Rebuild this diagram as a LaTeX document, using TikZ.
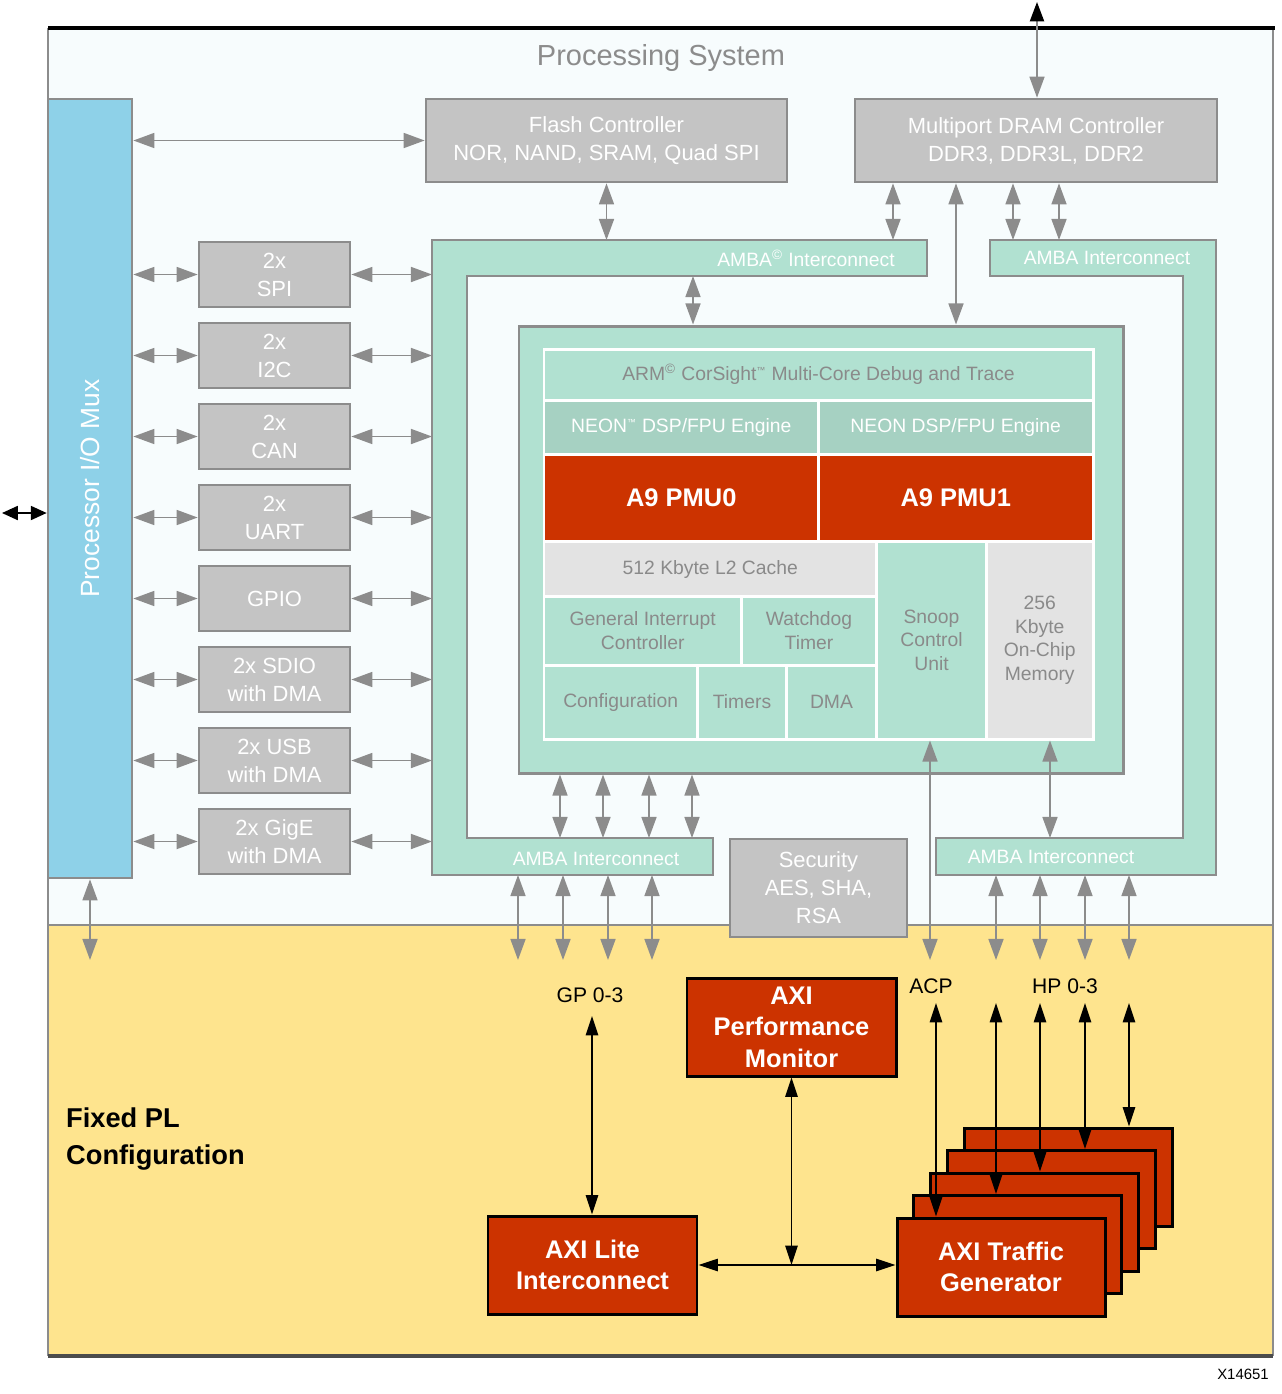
\documentclass[tikz,border=0pt]{standalone}
\usepackage{fontspec}
\setmainfont{Liberation Sans}
\usetikzlibrary{arrows.meta}

\definecolor{psBg}{HTML}{F7FCFD}
\definecolor{plBg}{HTML}{FEE48E}
\definecolor{muxBlue}{HTML}{8ED1E8}
\definecolor{boxGray}{HTML}{C4C4C4}
\definecolor{edgeGray}{HTML}{8C8C8C}
\definecolor{mint}{HTML}{B1E1D1}
\definecolor{neonMint}{HTML}{A6D1C2}
\definecolor{pmuRed}{HTML}{CC3300}
\definecolor{cacheGray}{HTML}{E3E3E3}
\definecolor{txtGray}{HTML}{8A8A8A}

\newcommand{\fsz}[2]{\fontsize{#1}{#2}\selectfont}

\tikzset{
  wh/.style 2 args={minimum width=#1*0.02cm, minimum height=#2*0.02cm},
  gbox/.style={draw=edgeGray, fill=boxGray, line width=1.5pt, text=white,
    align=center, inner sep=0pt, font=\fsz{12.5}{16}},
  cell/.style={draw=white, fill=mint, line width=1.7pt, text=txtGray,
    align=center, inner sep=0pt, font=\fsz{11}{13.6}},
  redbox/.style={draw=black, fill=pmuRed, line width=1.7pt, text=white,
    align=center, inner sep=0pt, font=\bfseries\fsz{14.5}{18}},
  amba/.style={draw=edgeGray, fill=mint, line width=1.5pt},
  ambatext/.style={text=white, font=\fsz{11}{13}},
  garr/.style={color=edgeGray, line width=1.1pt,
    >={Triangle[length=12pt,width=8.5pt]}, <->},
  barr/.style={color=black, line width=0.9pt,
    >={Triangle[length=11pt,width=7pt]}, <->},
}

\begin{document}
\begin{tikzpicture}[x=0.02cm, y=-0.02cm]
\useasboundingbox (0,0) rectangle (1282,1394);

% Processing System / Fixed PL areas
\fill[psBg] (48,28) rectangle (1273,925);
\fill[plBg] (48,925) rectangle (1273,1356);
\draw[edgeGray, line width=1pt] (48,925) -- (1273,925);
\draw[edgeGray, line width=1.2pt] (48,28) -- (48,1356);
\draw[edgeGray, line width=0.8pt] (1273,28) -- (1273,1356);
\draw[black, line width=1.8pt] (48,28) -- (1275,28);
\draw[black!70, line width=1.8pt] (48,1356) -- (1273,1356);

\node (psTitle) [text=edgeGray, font=\fsz{16.5}{20}] at (661,58) {Processing System};

\coordinate (ltop)    at (0,240);
\coordinate (linner)  at (0,276);
\coordinate (lbotIn)  at (0,838);
\coordinate (lbotOut) at (0,875);
\coordinate (lwest)   at (432,0);
\coordinate (plEdge)  at (0,960);

% I/O mux
\node (mux) [draw=edgeGray, fill=muxBlue, line width=1.5pt, wh={84}{779}] at (90,488.5) {};
\node (muxText) [rotate=90, text=white, font=\fsz{15}{18}] at (mux) {Processor I/O Mux};
\coordinate (ioPin) at (2,513);
\draw[barr, >={Triangle[length=9pt,width=8pt]}] (ioPin) -- (mux.west |- ioPin);
\draw[garr] (mux.south) -- (mux.south |- plEdge);

% memory controllers
\node (flash) [gbox, wh={361}{83}] at (606.5,140.5) {Flash Controller\\NOR, NAND, SRAM, Quad SPI};
\node (dram)  [gbox, wh={362}{83}] at (1036,140.5) {Multiport DRAM Controller\\DDR3, DDR3L, DDR2};
\draw[garr] (mux.east |- flash.west) -- (flash.west);
\coordinate (ddrPin) at (1037,2);
\draw[color=edgeGray, line width=1.1pt,
  arrows={Triangle[length=12pt,width=8.5pt]-Triangle[length=11pt,width=8pt,color=black]}]
  (dram.north -| ddrPin) -- (ddrPin);

% peripherals
\foreach \nm/\txt [count=\i from 0] in {spi/{2x\\SPI}, i2c/{2x\\I2C}, can/{2x\\CAN},
    uart/{2x\\UART}, gpio/GPIO, sdio/{2x SDIO\\with DMA}, usb/{2x USB\\with DMA},
    gige/{2x GigE\\with DMA}} {
  \node (\nm) [gbox, wh={151}{65}] at (274.5,274.5+81*\i) {\txt};
  \draw[garr] (mux.east |- \nm) -- (\nm.west);
  \draw[garr] (\nm.east) -- (\nm.east -| lwest);
}

% AMBA interconnects
\draw[amba] (432,240) -- (927,240) -- (927,276) -- (467,276) -- (467,838)
  -- (713,838) -- (713,875) -- (432,875) -- cycle;
\draw[amba] (990,240) -- (1216,240) -- (1216,875) -- (936,875) -- (936,838)
  -- (1183,838) -- (1183,276) -- (990,276) -- cycle;
\node (ambaTL) [ambatext] at (806,258) {AMBA\textsuperscript{\textcopyright} Interconnect};
\node (ambaBL) [ambatext] at (596,859) {AMBA Interconnect};
\node (ambaTR) [ambatext] at (1107,258) {AMBA Interconnect};
\node (ambaBR) [ambatext] at (1051,857) {AMBA Interconnect};

% application processor unit
\node (core) [draw=edgeGray, fill=mint, line width=1.7pt, wh={604}{447}] at (821,549.5) {};
\node (cs)    [cell, wh={549}{51.5}] at (818.5,374.75)
  {ARM\textsuperscript{\textcopyright} CorSight\textsuperscript{\tiny ™} Multi-Core Debug and Trace};
\node (neon0) [cell, fill=neonMint, text=white, wh={274.5}{54}] at (681.25,427.5)
  {NEON\textsuperscript{\tiny ™} DSP/FPU Engine};
\node (neon1) [cell, fill=neonMint, text=white, wh={274.5}{54}] at (955.75,427.5)
  {NEON DSP/FPU Engine};
\node (pmu0) [cell, fill=pmuRed, text=white, font=\bfseries\fsz{14.5}{18}, wh={274.5}{87}] at (681.25,498) {A9 PMU0};
\node (pmu1) [cell, fill=pmuRed, text=white, font=\bfseries\fsz{14.5}{18}, wh={274.5}{87}] at (955.75,498) {A9 PMU1};
\node (l2)  [cell, fill=cacheGray, wh={332.5}{55}] at (710.25,569) {512 Kbyte L2 Cache};
\node (gic) [cell, wh={197.5}{68.5}] at (642.75,630.75) {General Interrupt\\Controller};
\node (wdt) [cell, wh={135}{68.5}] at (809,630.75) {Watchdog\\Timer};
\node (cfg) [cell, wh={153.5}{74}] at (620.75,702) {Configuration};
\node (tmr) [cell, wh={89}{74}] at (742,702) {Timers};
\node (dma) [cell, wh={90}{74}] at (831.5,702) {DMA};
\node (scu) [cell, wh={110}{197.5}] at (931.5,640.25) {Snoop\\Control\\Unit};
\node (ocm) [cell, fill=cacheGray, wh={106.5}{197.5}] at (1039.75,640.25) {256\\Kbyte\\On-Chip\\Memory};

% PS internal links
\draw[garr] (flash.south) -- (flash.south |- ltop);
\foreach \x in {893,1013,1059} {
  \path (\x,0) coordinate (tap);
  \draw[garr] (tap |- dram.south) -- (tap |- ltop);
}
\coordinate (ddrCore) at (956,0);
\draw[garr] (ddrCore |- dram.south) -- (ddrCore |- core.north);
\coordinate (ambaCore) at (693,0);
\draw[garr] (ambaCore |- linner) -- (ambaCore |- core.north);
\foreach \x in {560,603,649,692} {
  \path (\x,0) coordinate (tap);
  \draw[garr] (tap |- core.south) -- (tap |- lbotIn);
}
\coordinate (ocmLink) at (1050,0);
\draw[garr] (ocmLink |- lbotIn) -- (ocmLink |- ocm.south);
\foreach \x in {518,563,608,652,996,1040,1085,1129} {
  \path (\x,0) coordinate (tap);
  \draw[garr] (tap |- lbotOut) -- (tap |- plEdge);
}
\coordinate (acpLink) at (930,0);
\draw[garr] (acpLink |- scu.south) -- (acpLink |- plEdge);

\node (sec) [gbox, wh={177}{98}] at (818.5,888) {Security\\AES, SHA,\\RSA};

% Fixed PL
\node (plTitle) [anchor=west, align=left, font=\bfseries\fsz{15.5}{20.5}] at (60,1139) {Fixed PL\\Configuration};
\node (gp)  [font=\fsz{12}{14}] at (590,995) {GP 0-3};
\node (acp) [font=\fsz{12}{14}] at (931,986) {ACP};
\node (hp)  [font=\fsz{12}{14}] at (1065,986) {HP 0-3};

\node (perfmon) [redbox, wh={209}{98}] at (791.5,1027) {AXI\\Performance\\Monitor};
\node (lite)    [redbox, wh={209}{98}] at (592.5,1265) {AXI Lite\\Interconnect};
\foreach \k in {4,3,2,1}
  \node (tg\k) [redbox, wh={208}{98}] at (1001+16.75*\k,1267-22.5*\k) {};
\node (tg0) [redbox, wh={208}{98}] at (1001,1267) {AXI Traffic\\Generator};

\coordinate (gpTop) at (592,1016);
\draw[barr] (gpTop) -- (gpTop |- lite.north);
\draw[barr] (perfmon.south) -- (perfmon.south |- lite.east);
\draw[barr] (lite.east) -- (lite.east -| tg0.west);
\coordinate (acpTop) at (936,1003);
\draw[barr] (acpTop) -- (acpTop |- tg0.north);
\foreach \x/\k in {996/1,1040/2,1085/3,1129/4} {
  \path (\x,1003) coordinate (hpTop);
  \draw[barr] (hpTop) -- (hpTop |- tg\k.north);
}

\node (figId) [font=\fsz{8.5}{10}] at (1243,1374) {X14651};

\end{tikzpicture}
\end{document}
